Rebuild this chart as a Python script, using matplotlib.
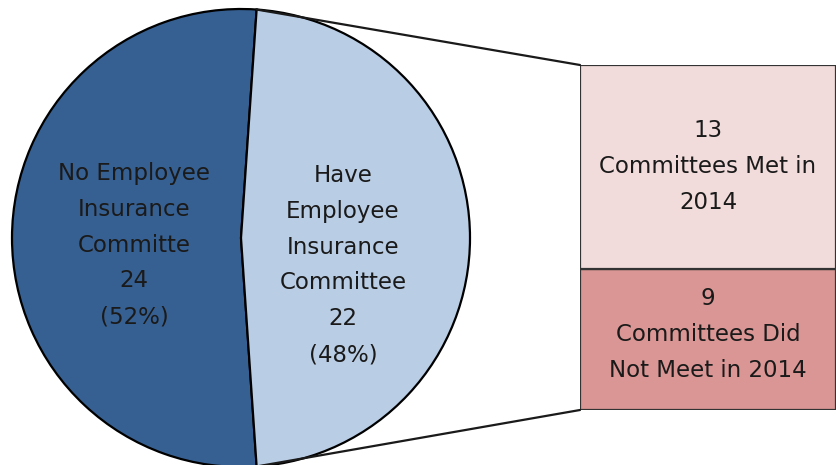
import matplotlib
matplotlib.use("Agg")
import matplotlib.pyplot as plt
from matplotlib.patches import ConnectionPatch
import numpy as np

# Data
pie_labels = ["No Employee\nInsurance\nCommitte", "Have\nEmployee\nInsurance\nCommittee"]
pie_values = [24, 22]
pie_colors = ["#376092", "#B9CDE5"]

bar_labels = ["Committees Did\nNot Meet in 2014", "Committees Met in\n2014"]
bar_values = [9, 13]
bar_colors = ["#D99694", "#F2DCDB"]

W, H = 837, 465
fig = plt.figure(figsize=(W / 100, H / 100), dpi=100)
plt.rcParams['font.family'] = ['DejaVu Sans']
FS = 16.5
LS = 1.72

ax = fig.add_axes([0, 0, 1, 1])
cx, cy, r = 241, 227, 229
share_dark = pie_values[0] / sum(pie_values)
wedges, _ = ax.pie(pie_values, colors=pie_colors, startangle=180 - share_dark * 360 / 2,
                   center=(cx, cy), radius=r, counterclock=True,
                   wedgeprops=dict(edgecolor="black", linewidth=1.6))
ax.set_xlim(0, W)
ax.set_ylim(0, H)
ax.set_aspect("equal")
ax.set_axis_off()

ax.text(134, H - 245, f"{pie_labels[0]}\n{pie_values[0]}\n({pie_values[0]/sum(pie_values):.0%})",
        ha="center", va="center", fontsize=FS, linespacing=LS, color="#1a1a1a")
ax.text(343, H - 265, f"{pie_labels[1]}\n{pie_values[1]}\n({pie_values[1]/sum(pie_values):.0%})",
        ha="center", va="center", fontsize=FS, linespacing=LS, color="#1a1a1a")

# Stacked bar
bx0, bx1, by_top, by_bot = 580, 836, 65, 410
bax = fig.add_axes([bx0 / W, (H - by_bot) / H, (bx1 - bx0) / W, (by_bot - by_top) / H])
bottom = 0
for v, c, lab, off in zip(bar_values, bar_colors, bar_labels, [0.3, 0.0]):
    bax.bar(0, v, bottom=bottom, width=1, color=c, edgecolor="#333333", linewidth=1.6)
    bax.text(0, bottom + v / 2 + off, f"{v}\n{lab}", ha="center", va="center",
             fontsize=FS, linespacing=LS, color="#1a1a1a")
    bottom += v
bax.set_xlim(-0.5, 0.5)
bax.set_ylim(0, sum(bar_values))
bax.set_axis_off()

# Connector lines from light wedge edges to bar corners
w = wedges[1]
for ang, yb in [(w.theta2, sum(bar_values)), (w.theta1, 0)]:
    px = cx + r * np.cos(np.radians(ang))
    py = cy + r * np.sin(np.radians(ang))
    con = ConnectionPatch(xyA=(px, py), coordsA=ax.transData,
                          xyB=(-0.5, yb), coordsB=bax.transData,
                          color="#1a1a1a", linewidth=1.6)
    fig.add_artist(con)

fig.savefig("out.png", dpi=100)
